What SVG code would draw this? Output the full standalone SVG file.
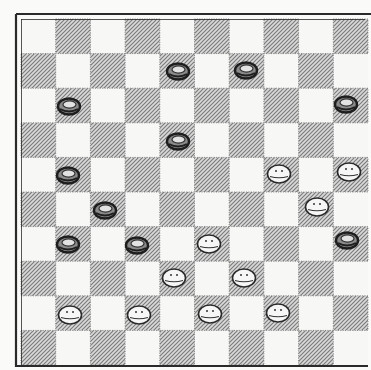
<svg xmlns="http://www.w3.org/2000/svg" width="371" height="370" viewBox="0 0 371 370">
<style>
.d{fill:url(#hatch);stroke:#777;stroke-width:0.9;stroke-dasharray:1 1.4}
.frame{fill:none;stroke:#2a2a2a}
</style>
<defs>
<pattern id="hatch" patternUnits="userSpaceOnUse" width="4" height="4">
<rect width="4" height="4" fill="#dadada"/>
<path d="M-1,1 L1,-1 M0,4 L4,0 M3,5 L5,3" stroke="#7c7c7c" stroke-width="1.2"/>
</pattern>
<g id="bp">
<ellipse cx="0" cy="0.5" rx="11" ry="8" fill="#8a8a8a" stroke="#1e1e1e" stroke-width="2.4"/>
<ellipse cx="0.5" cy="-1.5" rx="6.5" ry="3.6" fill="#e2e2e2" stroke="#333" stroke-width="1.2"/>
<path d="M-9,3 Q0,8 9,3" fill="none" stroke="#1e1e1e" stroke-width="2"/>
</g>
<g id="wp">
<ellipse cx="0" cy="0" rx="11.5" ry="9" fill="#f6f6f6" stroke="#2a2a2a" stroke-width="1.6"/>
<path d="M-9,2.5 Q0,5 9,2.5" fill="none" stroke="#333" stroke-width="1.1"/>
<circle cx="-3" cy="-3" r="1" fill="#333"/>
<circle cx="3" cy="-3" r="1" fill="#333"/>
</g>
</defs>
<rect width="371" height="370" fill="#fafaf8"/>
<g id="board">
<rect x="21" y="19" width="347" height="346" fill="#f7f7f5"/>
<rect class="d" x="55.7" y="19" width="34.7" height="34.6"/><rect class="d" x="125.1" y="19" width="34.7" height="34.6"/><rect class="d" x="194.5" y="19" width="34.7" height="34.6"/><rect class="d" x="263.9" y="19" width="34.7" height="34.6"/><rect class="d" x="333.3" y="19" width="34.7" height="34.6"/>
<rect class="d" x="21" y="53.6" width="34.7" height="34.6"/><rect class="d" x="90.4" y="53.6" width="34.7" height="34.6"/><rect class="d" x="159.8" y="53.6" width="34.7" height="34.6"/><rect class="d" x="229.2" y="53.6" width="34.7" height="34.6"/><rect class="d" x="298.6" y="53.6" width="34.7" height="34.6"/>
<rect class="d" x="55.7" y="88.2" width="34.7" height="34.6"/><rect class="d" x="125.1" y="88.2" width="34.7" height="34.6"/><rect class="d" x="194.5" y="88.2" width="34.7" height="34.6"/><rect class="d" x="263.9" y="88.2" width="34.7" height="34.6"/><rect class="d" x="333.3" y="88.2" width="34.7" height="34.6"/>
<rect class="d" x="21" y="122.8" width="34.7" height="34.6"/><rect class="d" x="90.4" y="122.8" width="34.7" height="34.6"/><rect class="d" x="159.8" y="122.8" width="34.7" height="34.6"/><rect class="d" x="229.2" y="122.8" width="34.7" height="34.6"/><rect class="d" x="298.6" y="122.8" width="34.7" height="34.6"/>
<rect class="d" x="55.7" y="157.4" width="34.7" height="34.6"/><rect class="d" x="125.1" y="157.4" width="34.7" height="34.6"/><rect class="d" x="194.5" y="157.4" width="34.7" height="34.6"/><rect class="d" x="263.9" y="157.4" width="34.7" height="34.6"/><rect class="d" x="333.3" y="157.4" width="34.7" height="34.6"/>
<rect class="d" x="21" y="192" width="34.7" height="34.6"/><rect class="d" x="90.4" y="192" width="34.7" height="34.6"/><rect class="d" x="159.8" y="192" width="34.7" height="34.6"/><rect class="d" x="229.2" y="192" width="34.7" height="34.6"/><rect class="d" x="298.6" y="192" width="34.7" height="34.6"/>
<rect class="d" x="55.7" y="226.6" width="34.7" height="34.6"/><rect class="d" x="125.1" y="226.6" width="34.7" height="34.6"/><rect class="d" x="194.5" y="226.6" width="34.7" height="34.6"/><rect class="d" x="263.9" y="226.6" width="34.7" height="34.6"/><rect class="d" x="333.3" y="226.6" width="34.7" height="34.6"/>
<rect class="d" x="21" y="261.2" width="34.7" height="34.6"/><rect class="d" x="90.4" y="261.2" width="34.7" height="34.6"/><rect class="d" x="159.8" y="261.2" width="34.7" height="34.6"/><rect class="d" x="229.2" y="261.2" width="34.7" height="34.6"/><rect class="d" x="298.6" y="261.2" width="34.7" height="34.6"/>
<rect class="d" x="55.7" y="295.8" width="34.7" height="34.6"/><rect class="d" x="125.1" y="295.8" width="34.7" height="34.6"/><rect class="d" x="194.5" y="295.8" width="34.7" height="34.6"/><rect class="d" x="263.9" y="295.8" width="34.7" height="34.6"/><rect class="d" x="333.3" y="295.8" width="34.7" height="34.6"/>
<rect class="d" x="21" y="330.4" width="34.7" height="34.6"/><rect class="d" x="90.4" y="330.4" width="34.7" height="34.6"/><rect class="d" x="159.8" y="330.4" width="34.7" height="34.6"/><rect class="d" x="229.2" y="330.4" width="34.7" height="34.6"/><rect class="d" x="298.6" y="330.4" width="34.7" height="34.6"/>
</g>
<g id="frame">
<path class="frame" d="M16,14 H371 M16,14 V366 H368" stroke-width="2.2"/>
<path class="frame" d="M21,19.5 H365 M21.5,19 V365" stroke-width="0.8" stroke="#666"/>
</g>
<g id="black-pieces">
<use id="b1" href="#bp" x="178" y="71"/>
<use id="b2" href="#bp" x="246" y="70"/>
<use id="b3" href="#bp" x="69" y="106"/>
<use id="b4" href="#bp" x="346" y="104"/>
<use id="b5" href="#bp" x="178" y="141"/>
<use id="b6" href="#bp" x="68" y="175"/>
<use id="b7" href="#bp" x="105" y="210"/>
<use id="b8" href="#bp" x="68" y="244"/>
<use id="b9" href="#bp" x="137" y="245"/>
<use id="b10" href="#bp" x="347" y="240"/>
</g>
<g id="white-pieces">
<use id="w1" href="#wp" x="279" y="174"/>
<use id="w2" href="#wp" x="349" y="172"/>
<use id="w3" href="#wp" x="317" y="207"/>
<use id="w4" href="#wp" x="209" y="244"/>
<use id="w5" href="#wp" x="174" y="278"/>
<use id="w6" href="#wp" x="244" y="278"/>
<use id="w7" href="#wp" x="70" y="315"/>
<use id="w8" href="#wp" x="139" y="315"/>
<use id="w9" href="#wp" x="210" y="314"/>
<use id="w10" href="#wp" x="278" y="313"/>
</g>
</svg>
